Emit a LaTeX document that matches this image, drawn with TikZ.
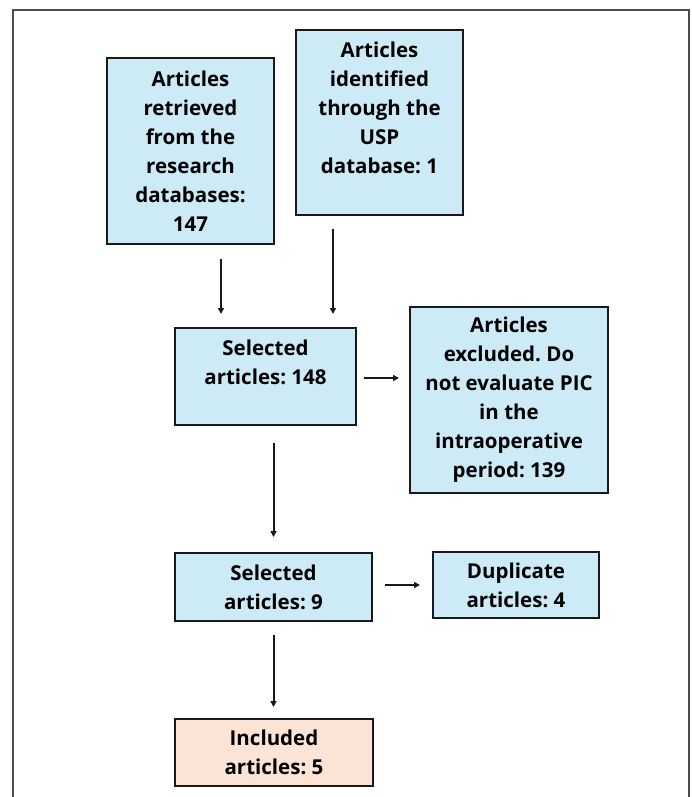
\documentclass[tikz,border=0pt]{standalone}
\usepackage{fontspec}
\setmainfont{Open Sans}
\usetikzlibrary{arrows.meta}
\frenchspacing
\definecolor{cajaazul}{HTML}{CCEBF7}
\definecolor{cajarosa}{HTML}{FBE3D6}
\tikzstyle{arrow} = [
	line width=2pt,
	->,
	>={Triangle[length=6pt,width=6pt]},
	black!90,
]
\tikzstyle{caja} = [
  rectangle,
  line width=2pt,
  text centered,
  align=center,
  font=\fontsize{20.5}{29}\selectfont\bfseries,
  draw=black!90,
  fill=cajaazul
]
\tikzstyle{incluido} = [
  caja,
  fill=cajarosa
]

\begin{document}
\begin{tikzpicture}[x=1pt,y=-1pt]
    \useasboundingbox (0,0) rectangle (691,797);
    \draw[black!70, line width=2pt] (13,800) -- (13,10) -- (689,10) -- (689,800);

    \node[caja, minimum width=167pt, minimum height=186pt] (A) at (190.5,151) {Articles\\retrieved\\from the\\research\\databases:\\147};
    \node[caja, minimum width=167pt, minimum height=185pt] (B) at (379.5,122.5) {Articles\\identified\\through the\\USP\\database: 1\\ \mbox{}};
    \node[caja, minimum width=181pt, minimum height=97pt] (C) at (265.5,376.5) {Selected\\articles: 148\\ \mbox{}};
    \node[caja, minimum width=198pt, minimum height=186pt] (D) at (509,400) {Articles\\excluded. Do\\not evaluate PIC\\in the\\intraoperative\\period: 139};
    \node[caja, minimum width=197pt, minimum height=68pt] (E) at (273.5,587) {Selected\\articles: 9};
    \node[caja, minimum width=166pt, minimum height=66pt] (F) at (516,585) {Duplicate\\articles: 4};
    \node[incluido, minimum width=198pt, minimum height=67pt] (G) at (274,752.5) {Included\\articles: 5};

    \draw[arrow, shorten <=14pt, shorten >=13pt] ([xshift=30.5pt]A.south) -- ([xshift=30.5pt]A.south |- C.north);
    \draw[arrow, shorten <=13pt, shorten >=13pt] ([xshift=-46.5pt]B.south) -- ([xshift=-46.5pt]B.south |- C.north);
    \draw[arrow, shorten <=7pt, shorten >=10pt] ([yshift=-1.5pt]C.east) -- ([yshift=-1.5pt]C.east -| D.west);
    \draw[arrow, shorten <=17pt, shorten >=15pt] (C.south -| E.north) -- (E.north);
    \draw[arrow, shorten <=12pt, shorten >=12pt] ([yshift=2pt]E.east) -- ([yshift=2pt]E.east -| F.west);
    \draw[arrow, shorten <=13pt, shorten >=11pt] (E.south) -- (E.south |- G.north);
\end{tikzpicture}
\end{document}
